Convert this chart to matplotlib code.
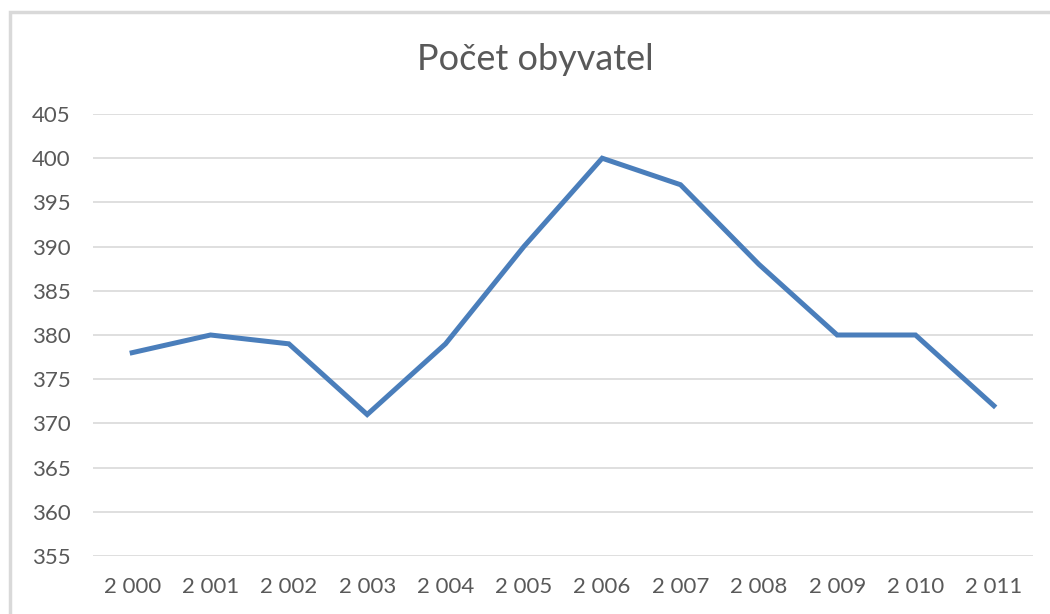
import matplotlib.pyplot as plt
from matplotlib.patches import Rectangle

years = [2000, 2001, 2002, 2003, 2004, 2005, 2006, 2007, 2008, 2009, 2010, 2011]
obyvatel = [378, 380, 379, 371, 379, 390, 400, 397, 388, 380, 380, 372]
yticks = [355, 360, 365, 370, 375, 380, 385, 390, 395, 400, 405]

plt.rcParams['font.family'] = ['Lato', 'DejaVu Sans']

fig = plt.figure(figsize=(10.5, 6.14), dpi=100)
ax = fig.add_axes([0.0886, 0.0945, 0.8952, 0.7198])

# chart frame like Excel's
fig.patches.append(Rectangle((9.5 / 1050, -0.1), 1.2, 1 - 11.5 / 614 + 0.1,
                             transform=fig.transFigure, fill=False,
                             edgecolor='#d9d9d9', linewidth=2.5))

x = list(range(len(years)))
ax.plot(x, obyvatel, color='#4a7ebb', linewidth=3.6, solid_joinstyle='miter')

ax.set_xlim(-0.5, len(years) - 0.5)
ax.set_ylim(355, 405)
ax.set_yticks(yticks)
ax.set_xticks(x)
ax.set_xticklabels([f"{y // 1000} {y % 1000:03d}" for y in years])
ax.grid(axis='y', color='#d9d9d9', linewidth=1.2)
ax.set_axisbelow(True)
for s in ax.spines.values():
    s.set_visible(False)
ax.tick_params(length=0, colors='#595959', labelsize=16)
ax.tick_params(axis='y', pad=16)
ax.tick_params(axis='x', pad=15)

fig.text(535 / 1050, 1 - 60 / 614, "Počet obyvatel", fontsize=26, color='#595959',
         ha='center', va='center', fontweight='normal')

fig.savefig('out.png', dpi=100)
